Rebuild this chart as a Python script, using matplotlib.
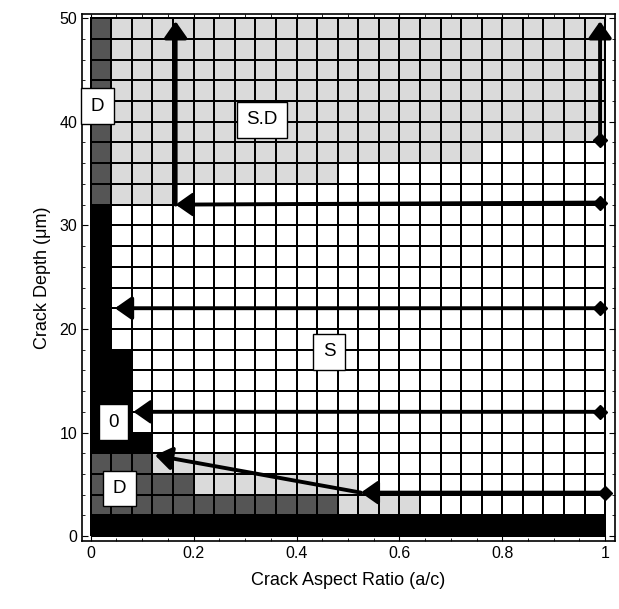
import numpy as np
import matplotlib.pyplot as plt
from matplotlib.colors import ListedColormap
from matplotlib.ticker import MultipleLocator

plt.rcParams['font.family'] = ['Liberation Sans', 'DejaVu Sans']

# grid of the map: 25 aspect-ratio columns x 25 depth rows
ratio_edges = np.linspace(0, 1, 26)
depth_edges = np.arange(0, 52, 2)

# cell codes: 0 = S (white), 1 = S.D (light gray), 2 = D (dark gray), 3 = 0 (black)
# each depth row (bottom to top) given as runs of (code, number of cells)
row_runs = (
    [[(3, 25)]]                              # 0-2
    + [[(2, 12), (1, 4), (0, 9)]]            # 2-4
    + [[(2, 5), (1, 8), (0, 12)]]            # 4-6
    + [[(2, 3), (1, 4), (0, 18)]]            # 6-8
    + [[(3, 3), (0, 22)]]                    # 8-10
    + [[(3, 2), (0, 23)]] * 4                # 10-18
    + [[(3, 1), (0, 24)]] * 7                # 18-32
    + [[(2, 1), (1, 3), (0, 21)]]            # 32-34
    + [[(2, 1), (1, 11), (0, 13)]]           # 34-36
    + [[(2, 1), (1, 18), (0, 6)]]            # 36-38
    + [[(2, 1), (1, 24)]] * 6                # 38-50
)

cells = np.array([[code for code, n in row for _ in range(n)] for row in row_runs])

# arrows (start -> end) and diamond start points
arrow_starts = [(0.99, 38.2), (0.99, 32.2), (0.165, 32.0), (0.99, 22.0),
                (0.99, 12.0), (1.0, 4.2), (0.525, 4.2)]
arrow_ends = [(0.99, 49.7), (0.165, 32.0), (0.165, 49.7), (0.047, 22.0),
              (0.083, 12.0), (0.525, 4.2), (0.125, 7.8)]
diamond_x = [0.99, 0.99, 0.99, 0.99, 1.0]
diamond_y = [38.2, 32.2, 22.0, 12.0, 4.2]

# region labels
label_text = ["D", "S.D", "S", "0", "D"]
label_x = [0.013, 0.333, 0.463, 0.044, 0.056]
label_y = [41.5, 40.2, 17.8, 11.0, 4.6]

x_ticks = [0, 0.2, 0.4, 0.6, 0.8, 1]
x_tick_labels = ["0", "0.2", "0.4", "0.6", "0.8", "1"]
y_ticks = [0, 10, 20, 30, 40, 50]

fig = plt.figure(figsize=(6.19, 6.09), dpi=100)
ax = fig.add_axes([0.1325, 0.112, 0.861, 0.865])

cmap = ListedColormap(["white", "#dadada", "#555555", "black"])
ax.pcolormesh(ratio_edges, depth_edges, cells, cmap=cmap, vmin=-0.5, vmax=3.5,
              edgecolors="black", linewidth=1.4)

for (x0, y0), (x1, y1) in zip(arrow_starts, arrow_ends):
    ax.annotate("", xy=(x1, y1), xytext=(x0, y0),
                arrowprops=dict(arrowstyle="-|>,head_length=0.5,head_width=0.35",
                                mutation_scale=20, lw=2.8, color="black",
                                shrinkA=0, shrinkB=0), zorder=4)
ax.plot(diamond_x, diamond_y, "D", color="black", ms=7.5, zorder=5, clip_on=False)

for txt, x, y in zip(label_text, label_x, label_y):
    ax.text(x, y, txt, fontsize=13.5, ha="center", va="center", zorder=6, clip_on=False,
            bbox=dict(boxstyle="square,pad=0.5", fc="white", ec="black", lw=1))

ax.set_xlim(-0.017, 1.019)
ax.set_ylim(-0.45, 50.4)
ax.set_xticks(x_ticks)
ax.set_xticklabels(x_tick_labels)
ax.set_yticks(y_ticks)
ax.xaxis.set_minor_locator(MultipleLocator(0.05))
ax.yaxis.set_minor_locator(MultipleLocator(2))
ax.tick_params(which="both", direction="in", top=True, right=True, labelsize=11.5)
ax.tick_params(which="major", length=4)
ax.tick_params(which="minor", length=2.5)
for s in ax.spines.values():
    s.set_linewidth(1.2)

ax.set_xlabel("Crack Aspect Ratio (a/c)", fontsize=13, labelpad=8)
ax.set_ylabel("Crack Depth (\u03bcm)", fontsize=13, labelpad=6)

fig.savefig("out.png", dpi=100)
